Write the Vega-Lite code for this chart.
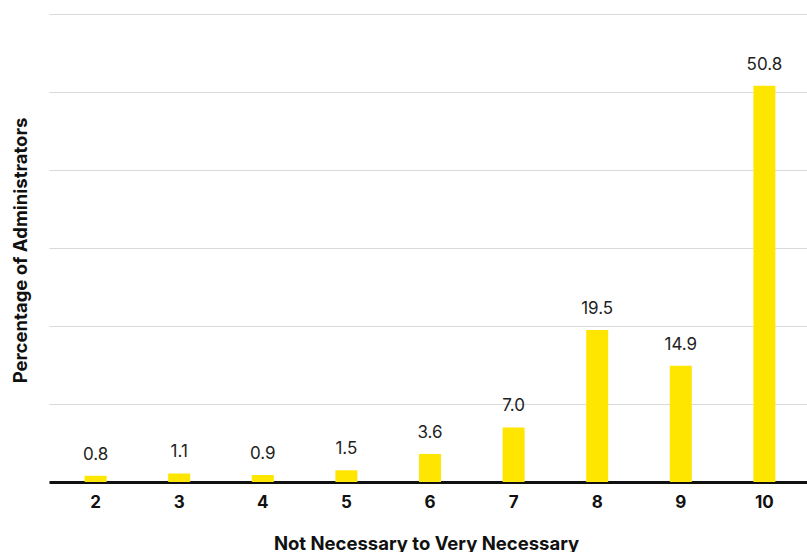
{
  "$schema": "https://vega.github.io/schema/vega-lite/v6.json",
  "width": 762,
  "height": 468,
  "autosize": {"type": "none"},
  "padding": {"left": 45, "top": 14, "right": 0, "bottom": 70},
  "background": "white",
  "config": {
    "font": "Inter",
    "view": {"stroke": null}
  },
  "data": {
    "values": [
      {"rating": "2", "pct": 0.8},
      {"rating": "3", "pct": 1.1},
      {"rating": "4", "pct": 0.9},
      {"rating": "5", "pct": 1.5},
      {"rating": "6", "pct": 3.6},
      {"rating": "7", "pct": 7.0},
      {"rating": "8", "pct": 19.5},
      {"rating": "9", "pct": 14.9},
      {"rating": "10", "pct": 50.8}
    ]
  },
  "encoding": {
    "x": {
      "field": "rating",
      "type": "ordinal",
      "sort": null,
      "scale": {"paddingInner": 0.737, "paddingOuter": 0.426, "range": [4, 766]},
      "axis": {
        "title": "Not Necessary to Very Necessary",
        "titleFontSize": 18.5,
        "titleFontWeight": "bold",
        "titleColor": "#111111",
        "titleX": 381,
        "titleY": 61,
        "titleBaseline": "middle",
        "labelAngle": 0,
        "labelFontSize": 17,
        "labelFontWeight": "bold",
        "labelColor": "#111111",
        "labelPadding": 12,
        "ticks": false,
        "domainColor": "#111111",
        "domainWidth": 3,
        "grid": false
      }
    },
    "y": {
      "field": "pct",
      "type": "quantitative",
      "scale": {"domain": [0, 60], "nice": false},
      "axis": {
        "title": "Percentage of Administrators",
        "titleFontSize": 18.5,
        "titleFontWeight": "bold",
        "titleColor": "#111111",
        "titleX": -25,
        "titleY": 236,
        "titleAlign": "center",
        "titleBaseline": "middle",
        "values": [0, 10, 20, 30, 40, 50, 60],
        "labels": false,
        "ticks": false,
        "domain": false,
        "grid": true,
        "gridColor": "#d9d9d9",
        "gridWidth": 1
      }
    }
  },
  "layer": [
    {"mark": {"type": "bar", "color": "#FFE600"}},
    {
      "mark": {"type": "text", "baseline": "alphabetic", "dy": -16, "fontSize": 17, "color": "#222222"},
      "encoding": {"text": {"field": "pct", "type": "quantitative", "format": ".1f"}}
    }
  ]
}
